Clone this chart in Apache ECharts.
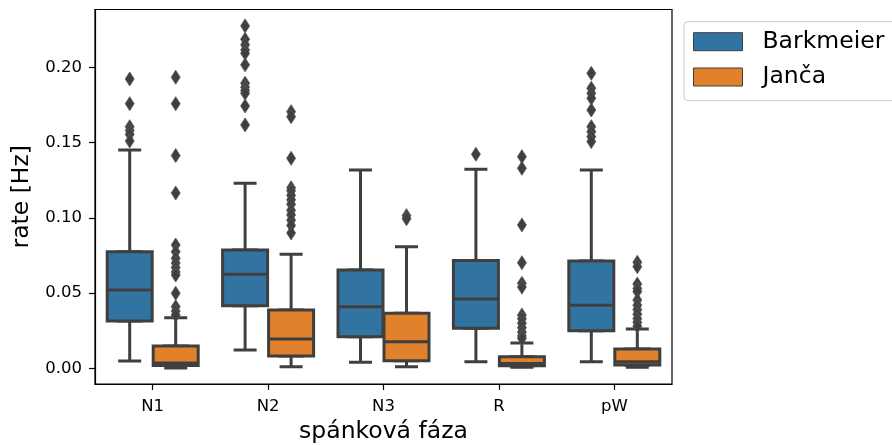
<!DOCTYPE html>
<html>
<head>
<meta charset="utf-8">
<script src="https://cdn.jsdelivr.net/npm/echarts@6/dist/echarts.min.js"></script>
<style>html,body{margin:0;padding:0;background:#fff}#c{width:892px;height:445px}</style>
</head>
<body>
<div id="c"></div>
<script>
// ---- data ----
var categories = ['N1', 'N2', 'N3', 'R', 'pW'];
var seriesNames = ['Barkmeier', 'Janča'];
var yTicks = [0, 0.05, 0.10, 0.15, 0.20];
// [lower whisker, Q1, median, Q3, upper whisker]
var barkmeierBox = [
  [0.0049, 0.0315, 0.0521, 0.0775, 0.1451],
  [0.0122, 0.0416, 0.0625, 0.0787, 0.1230],
  [0.0040, 0.0210, 0.0410, 0.0654, 0.1318],
  [0.0044, 0.0266, 0.0461, 0.0716, 0.1323],
  [0.0044, 0.0250, 0.0419, 0.0713, 0.1318]
];
var jancaBox = [
  [0.0003, 0.0019, 0.0035, 0.0148, 0.0336],
  [0.0011, 0.0082, 0.0195, 0.0388, 0.0758],
  [0.0011, 0.0051, 0.0177, 0.0366, 0.0809],
  [0.0008, 0.0018, 0.0032, 0.0077, 0.0168],
  [0.0007, 0.0022, 0.0044, 0.0128, 0.0261]
];
var barkmeierOutN1 = [0.1923, 0.1759, 0.1606, 0.1580, 0.1555, 0.1511];
var barkmeierOutN2 = [0.2276, 0.2187, 0.2150, 0.2116, 0.2094, 0.2017, 0.1895, 0.1868, 0.1846, 0.1828, 0.1744, 0.1618];
var barkmeierOutN3 = [];
var barkmeierOutR = [0.1423];
var barkmeierOutPW = [0.1961, 0.1862, 0.1828, 0.1795, 0.1717, 0.1606, 0.1573, 0.1540, 0.1507];
var jancaOutN1 = [0.1935, 0.1759, 0.1414, 0.1165, 0.0820, 0.0775, 0.0731, 0.0700, 0.0670, 0.0640, 0.0620, 0.0499, 0.0410, 0.0380, 0.0354];
var jancaOutN2 = [0.1706, 0.1673, 0.1396, 0.1200, 0.1180, 0.1150, 0.1120, 0.1090, 0.1050, 0.1020, 0.0985, 0.0950, 0.0900];
var jancaOutN3 = [0.1015, 0.0995];
var jancaOutR = [0.1407, 0.1330, 0.0953, 0.0702, 0.0565, 0.0540, 0.0354, 0.0330, 0.0300, 0.0270, 0.0240, 0.0215, 0.0199];
var jancaOutPW = [0.0705, 0.0676, 0.0560, 0.0530, 0.0510, 0.0454, 0.0420, 0.0390, 0.0360, 0.0330, 0.0305, 0.0280];

// ---- build ----
var barkmeierOut = [barkmeierOutN1, barkmeierOutN2, barkmeierOutN3, barkmeierOutR, barkmeierOutPW];
var jancaOut = [jancaOutN1, jancaOutN2, jancaOutN3, jancaOutR, jancaOutPW];
function flatten(lists) {
  var r = [];
  lists.forEach(function (l, i) { l.forEach(function (v) { r.push([i, v]); }); });
  return r;
}
function boxOnly(b) { return b.map(function (d) { return [d[1], d[1], d[2], d[3], d[3]]; }); }

var FONT = 'DejaVu Sans';
var LINE = '#3f3f3f';
var COLORS = ['#3274a1', '#e1812c'];
var YMIN = -0.0104, YMAX = 0.2385;
var PL = 95, PW = 577, PT = 9.5, PH = 374.5;
var SHIFT = 23;

function grid(left, show) {
  return { left: left, top: PT, width: PW, height: PH, show: show, containLabel: false,
    outerBoundsMode: 'none', borderColor: '#000', borderWidth: 1.2, backgroundColor: 'transparent', z: 10 };
}
var grids = [grid(PL, true), grid(PL - SHIFT, false), grid(PL + SHIFT, false)];
function hiddenX(g) { return { type: 'category', data: categories, gridIndex: g, show: false, boundaryGap: true }; }
function hiddenY(g) { return { type: 'value', gridIndex: g, min: YMIN, max: YMAX, show: false, splitLine: { show: false } }; }

var option = {
  animation: false,
  backgroundColor: '#fff',
  textStyle: { fontFamily: FONT },
  grid: grids,
  xAxis: [
    {
      type: 'category', data: categories, gridIndex: 0, boundaryGap: true,
      axisLine: { show: true, onZero: false, lineStyle: { color: '#000', width: 1.2 } },
      axisTick: { show: true, alignWithLabel: true, length: 6, lineStyle: { color: '#000', width: 1.2 } },
      axisLabel: { color: '#000', fontSize: 16.5, fontFamily: FONT, margin: 14 },
      name: 'spánková fáza', nameLocation: 'middle', nameGap: 36,
      nameTextStyle: { color: '#000', fontSize: 23.5, fontFamily: FONT },
      splitLine: { show: false }
    },
    hiddenX(1), hiddenX(1), hiddenX(2), hiddenX(2)
  ],
  yAxis: [
    {
      type: 'value', gridIndex: 0, min: YMIN, max: YMAX,
      axisLine: { show: true, onZero: false, lineStyle: { color: '#000', width: 1.2 } },
      axisTick: { show: true, length: 6, customValues: yTicks, lineStyle: { color: '#000', width: 1.2 } },
      axisLabel: { color: '#000', fontSize: 16.5, fontFamily: FONT, margin: 13, customValues: yTicks,
        formatter: function (v) { return Number(v).toFixed(2); } },
      splitLine: { show: false },
      name: 'rate [Hz]', nameLocation: 'middle', nameGap: 56, nameRotate: 90,
      nameTextStyle: { color: '#000', fontSize: 23.5, fontFamily: FONT }
    },
    hiddenY(1), hiddenY(2)
  ],
  legend: {
    data: seriesNames.map(function (n, k) {
      return { name: n, icon: 'rect', itemStyle: { color: COLORS[k], borderColor: LINE, borderWidth: 1 } };
    }),
    orient: 'vertical', left: 684, top: 21.7,
    padding: [8, 40, 11.7, 9],
    itemWidth: 49, itemHeight: 18, itemGap: 11.3,
    borderColor: '#cccccc', borderWidth: 1, borderRadius: 4, backgroundColor: '#fff',
    textStyle: { fontSize: 23.5, fontFamily: FONT, color: '#000', padding: [0, 0, 0, 15] }
  },
  series: []
};

var boxSets = [barkmeierBox, jancaBox];
var outSets = [barkmeierOut, jancaOut];
seriesNames.forEach(function (name, k) {
  var g = k + 1;
  var xw = 1 + 2 * k, xb = 2 + 2 * k;
  // full box (wide)
  option.series.push({
    type: 'boxplot', name: name, xAxisIndex: xb, yAxisIndex: g,
    boxWidth: [45, 45], z: 3,
    itemStyle: { color: COLORS[k], borderColor: LINE, borderWidth: 3 },
    emphasis: { disabled: true },
    data: boxOnly(boxSets[k])
  });
  // whiskers with half-width caps
  option.series.push({
    type: 'boxplot', name: name, xAxisIndex: xw, yAxisIndex: g,
    boxWidth: [23, 23], z: 2,
    itemStyle: { color: COLORS[k], borderColor: LINE, borderWidth: 3 },
    emphasis: { disabled: true },
    data: boxSets[k]
  });
  // outliers
  option.series.push({
    type: 'scatter', name: name, xAxisIndex: xw, yAxisIndex: g,
    symbol: 'diamond', symbolSize: [9, 14], z: 4,
    itemStyle: { color: '#3f3f3f', borderColor: '#5a5a5a', borderWidth: 0.8, opacity: 1 },
    emphasis: { disabled: true },
    data: flatten(outSets[k])
  });
});

var chart = echarts.init(document.getElementById('c'), null, { renderer: 'canvas' });
chart.setOption(option);
</script>
</body>
</html>
